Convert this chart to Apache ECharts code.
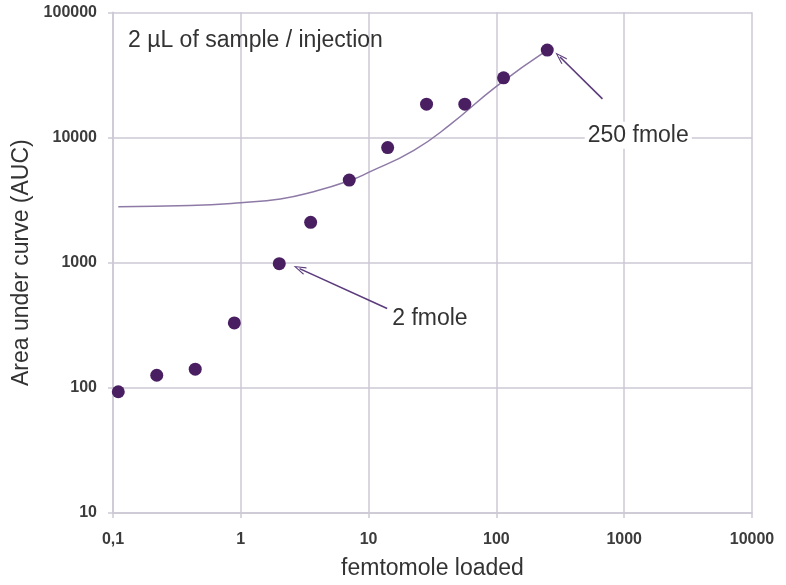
<!DOCTYPE html>
<html>
<head>
<meta charset="utf-8">
<script src="https://cdn.jsdelivr.net/npm/echarts@6/dist/echarts.min.js"></script>
<style>
  html, body { margin: 0; padding: 0; background: #fff; }
  #chart { width: 786px; height: 585px; }
</style>
</head>
<body>
<div id="chart"></div>
<script>
// Amount loaded (fmol) and measured peak area
const loadedFmol = [0.11, 0.22, 0.44, 0.89, 2, 3.52, 7.06, 14.1, 28.4, 56.6, 113.8, 250];
const areaAUC    = [93, 126, 141, 330, 982, 2100, 4570, 8300, 18460, 18460, 29940, 49900];

// Trend curve, sampled along its path
const trendX = [0.11, 0.4, 1.0, 2.04, 3.71, 7.06, 10.0, 22.6, 43.7, 100, 250];
const trendY = [2800, 2860, 3013, 3226, 3687, 4508, 5257, 7900, 12720, 25630, 49900];

// Axis ranges (decades)
const xTicks = [0.1, 1, 10, 100, 1000, 10000];
const yTicks = [10, 100, 1000, 10000, 100000];

// Annotation arrows: [tail, tip] in data coordinates, and label anchors
const arrow2 = [[13.97, 431], [2.88, 896]];
const arrow250 = [[676, 20360], [314.6, 43900]];
const label2 = [15.3, 359];
const label250 = [1288, 10400];

const gridColor = '#cdc9d5';
const dotColor = '#4a1f62';
const textColor = '#333333';
const arrowColor = '#5b3b7c';
const font = 'Liberation Sans, Arial, sans-serif';

// open chevron head for the annotation arrows
const chevron = 'path://M0,10 L5,0 L10,10 L8.8,10.7 L5,2.6 L1.2,10.7 Z';

const fmtNum = v => {
  const r = +Number(v).toPrecision(6);
  return String(r).replace('.', ',');
};

const chart = echarts.init(document.getElementById('chart'), null, { renderer: 'canvas' });
chart.setOption({
  animation: false,
  backgroundColor: '#ffffff',
  title: {
    text: '2 \u00b5L of sample / injection',
    left: 123, top: 24,
    textStyle: { fontFamily: font, fontSize: 23, fontWeight: 'normal', color: textColor }
  },
  grid: { left: 113, right: 34, top: 12.3, bottom: 69.3, containLabel: false },
  xAxis: {
    type: 'log', logBase: 10,
    min: xTicks[0], max: xTicks[xTicks.length - 1],
    name: 'femtomole loaded', nameLocation: 'middle', nameGap: 44,
    nameTextStyle: { fontFamily: font, fontSize: 23, color: textColor },
    axisLine: { show: true, lineStyle: { color: gridColor, width: 1.5 } },
    axisTick: { show: true, inside: false, length: 5, lineStyle: { color: gridColor, width: 1.5 } },
    axisLabel: {
      margin: 19, formatter: fmtNum,
      fontFamily: font, fontSize: 16, fontWeight: 'bold', color: '#3c3c3c'
    },
    splitLine: { show: true, lineStyle: { color: gridColor, width: 1.5 } },
    minorTick: { show: false }
  },
  yAxis: {
    type: 'log', logBase: 10,
    min: yTicks[0], max: yTicks[yTicks.length - 1],
    name: 'Area under curve (AUC)', nameLocation: 'middle', nameGap: 78,
    nameTextStyle: { fontFamily: font, fontSize: 23, color: textColor },
    axisLine: { show: true, lineStyle: { color: gridColor, width: 1.5 } },
    axisTick: { show: true, inside: false, length: 5, lineStyle: { color: gridColor, width: 1.5 } },
    axisLabel: {
      margin: 16, formatter: fmtNum,
      fontFamily: font, fontSize: 16, fontWeight: 'bold', color: '#3c3c3c'
    },
    splitLine: { show: true, lineStyle: { color: gridColor, width: 1.5 } }
  },
  series: [
    {
      name: 'trend',
      type: 'line',
      smooth: 0.5,
      showSymbol: false,
      symbol: 'none',
      data: trendX.map((x, i) => [x, trendY[i]]),
      lineStyle: { color: '#8e7aa6', width: 1.5 },
      z: 2
    },
    {
      name: 'AUC',
      type: 'scatter',
      symbol: 'circle',
      symbolSize: 13,
      data: loadedFmol.map((x, i) => [x, areaAUC[i]]),
      itemStyle: { color: dotColor, opacity: 1 },
      z: 4,
      markLine: {
        silent: true,
        symbol: ['none', chevron],
        symbolSize: [8, 13],
        label: { show: false },
        itemStyle: { color: arrowColor },
        lineStyle: { color: arrowColor, width: 1.6, type: 'solid' },
        data: [
          [{ coord: arrow2[0] }, { coord: arrow2[1] }],
          [{ coord: arrow250[0] }, { coord: arrow250[1] }]
        ]
      },
      markPoint: {
        silent: true,
        symbol: 'rect',
        symbolSize: 0,
        data: [
          {
            coord: label2,
            label: {
              show: true, formatter: '2 fmole', position: 'right', distance: 0,
              fontFamily: font, fontSize: 23, color: textColor
            }
          },
          {
            coord: label250,
            label: {
              show: true, formatter: '250 fmole', position: 'inside',
              backgroundColor: '#ffffff', padding: [2, 3],
              fontFamily: font, fontSize: 23, color: textColor
            }
          }
        ]
      }
    }
  ]
});
</script>
</body>
</html>
